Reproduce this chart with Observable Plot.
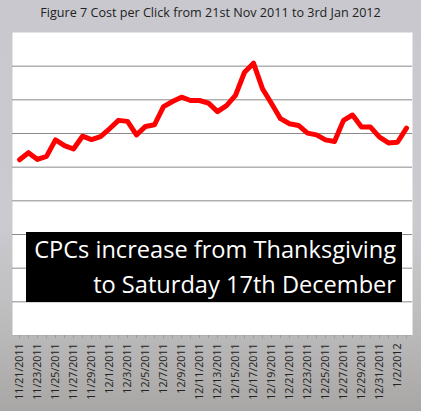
<!DOCTYPE html>
<html>
<head>
<meta charset="utf-8">
<script src="https://cdn.jsdelivr.net/npm/d3@7"></script>
<script src="https://cdn.jsdelivr.net/npm/@observablehq/plot@0.6"></script>
<style>
  html, body { margin: 0; padding: 0; }
  body {
    width: 421px; height: 411px; overflow: hidden; position: relative;
    font-family: "Open Sans", sans-serif;
    background: linear-gradient(#c8c8ce 0%, #cacacf 55%, #bdbcbd 78%, #a9a7a5 100%);
  }
  #title { height: 32px; line-height: 26px; text-align: center; font-size: 12.6px; color: #222; white-space: nowrap; }
  #chart svg { display: block; }
  #note {
    position: absolute; left: 26px; top: 232px; width: 376px; height: 70px;
    background: #000; color: #fff; font-size: 23.6px; line-height: 35px;
    text-align: right; box-sizing: border-box; padding-right: 6px; white-space: nowrap;
  }
</style>
</head>
<body>
<div id="title">Figure 7 Cost per Click from 21st Nov 2011 to 3rd Jan 2012</div>
<div id="chart"></div>
<div id="note">CPCs increase from Thanksgiving<br>to Saturday 17th December</div>
<script>
// Daily dates, 21 Nov 2011 – 3 Jan 2012
const dates = [
  "11/21/2011","11/22/2011","11/23/2011","11/24/2011","11/25/2011","11/26/2011",
  "11/27/2011","11/28/2011","11/29/2011","11/30/2011","12/1/2011","12/2/2011",
  "12/3/2011","12/4/2011","12/5/2011","12/6/2011","12/7/2011","12/8/2011",
  "12/9/2011","12/10/2011","12/11/2011","12/12/2011","12/13/2011","12/14/2011",
  "12/15/2011","12/16/2011","12/17/2011","12/18/2011","12/19/2011","12/20/2011",
  "12/21/2011","12/22/2011","12/23/2011","12/24/2011","12/25/2011","12/26/2011",
  "12/27/2011","12/28/2011","12/29/2011","12/30/2011","12/31/2011","1/1/2012",
  "1/2/2012","1/3/2012"
];

// Cost per click for each day
const cpc = [
  0.522, 0.543, 0.523, 0.532, 0.581, 0.564, 0.554, 0.592, 0.582, 0.591,
  0.614, 0.639, 0.636, 0.596, 0.621, 0.626, 0.680, 0.695, 0.708, 0.698,
  0.698, 0.690, 0.665, 0.683, 0.713, 0.782, 0.809, 0.733, 0.689, 0.644,
  0.629, 0.624, 0.601, 0.596, 0.581, 0.576, 0.639, 0.655, 0.619, 0.619,
  0.589, 0.572, 0.574, 0.616
];

// Labelled dates on the category axis (every other day)
const tickLabels = [
  "11/21/2011","11/23/2011","11/25/2011","11/27/2011","11/29/2011","12/1/2011",
  "12/3/2011","12/5/2011","12/7/2011","12/9/2011","12/11/2011","12/13/2011",
  "12/15/2011","12/17/2011","12/19/2011","12/21/2011","12/23/2011","12/25/2011",
  "12/27/2011","12/29/2011","12/31/2011","1/2/2012"
];

// Horizontal gridline values
const gridValues = [0.1, 0.2, 0.3, 0.4, 0.5, 0.6, 0.7, 0.8];

const rows = dates.map((d, i) => ({date: d, cpc: cpc[i]}));

const chart = Plot.plot({
  width: 421,
  height: 379,
  marginTop: 0,
  marginLeft: 12,
  marginRight: 9,
  marginBottom: 76,
  style: {background: "transparent", fontFamily: "Open Sans, sans-serif", fontSize: "10.6px", color: "#222"},
  x: {type: "point", domain: dates, padding: 0.5, label: null},
  y: {domain: [0, 0.9], axis: null},
  marks: [
    Plot.frame({fill: "white", stroke: "none"}),
    Plot.ruleY(gridValues, {stroke: "#8a8a8a", strokeWidth: 1}),
    Plot.ruleY([0], {stroke: "#b0b0b0", strokeWidth: 1}),
    Plot.axisX({ticks: dates, tickSize: 3, tickFormat: () => "", stroke: "#9a9a9a", label: null}),
    Plot.axisX({ticks: tickLabels, tickSize: 0, tickPadding: 8, tickRotate: -90, fill: "#222", label: null}),
    Plot.line(rows, {x: "date", y: "cpc", stroke: "#ff0000", strokeWidth: 5, strokeLinejoin: "round", strokeLinecap: "round"})
  ]
});
document.getElementById("chart").append(chart);
</script>
</body>
</html>
